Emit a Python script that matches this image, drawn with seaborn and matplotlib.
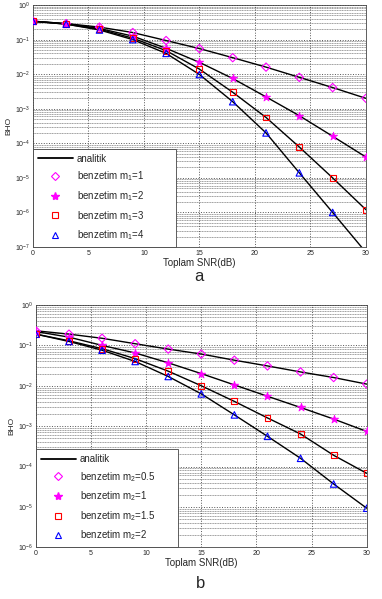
import numpy as np
import pandas as pd
import matplotlib
matplotlib.use("Agg")
import matplotlib.pyplot as plt
import seaborn as sns
from matplotlib.lines import Line2D
from matplotlib.ticker import LogLocator, NullFormatter

snr = [0, 3, 6, 9, 12, 15, 18, 21, 24, 27, 30]

# (a) simulated BER for m1 = 1..4
a_m1_1 = [0.34, 0.29, 0.23, 0.16, 0.094, 0.055, 0.030, 0.016, 0.0081, 0.0041, 0.0020]
a_m1_2 = [0.34, 0.29, 0.21, 0.126, 0.056, 0.022, 0.0075, 0.0022, 6.3e-4, 1.6e-4, 4.0e-5]
a_m1_3 = [0.34, 0.28, 0.20, 0.11, 0.048, 0.014, 0.0030, 5.6e-4, 7.8e-5, 1.0e-5, 1.2e-6]
a_m1_4 = [0.34, 0.28, 0.19, 0.10, 0.040, 0.0098, 1.6e-3, 2.0e-4, 1.4e-5, 1.0e-6, 7.0e-8]

# (b) simulated BER for m2 = 0.5..2
b_m2_05 = [0.23, 0.19, 0.15, 0.11, 0.081, 0.061, 0.043, 0.031, 0.022, 0.016, 0.011]
b_m2_1 = [0.22, 0.16, 0.10, 0.065, 0.037, 0.020, 0.0105, 0.0055, 0.0029, 0.0015, 7.4e-4]
b_m2_15 = [0.19, 0.13, 0.083, 0.047, 0.023, 0.010, 0.0041, 0.0016, 6.4e-4, 1.9e-4, 6.8e-5]
b_m2_2 = [0.19, 0.125, 0.076, 0.040, 0.017, 0.0063, 0.0019, 5.6e-4, 1.6e-4, 3.7e-5, 9.3e-6]

labels_a = ["benzetim m$_1$=1", "benzetim m$_1$=2", "benzetim m$_1$=3", "benzetim m$_1$=4"]
labels_b = ["benzetim m$_2$=0.5", "benzetim m$_2$=1", "benzetim m$_2$=1.5", "benzetim m$_2$=2"]

sns.set_theme(style="white")
plt.rcParams['font.family'] = ['Liberation Sans', 'DejaVu Sans']
plt.rcParams['mathtext.fontset'] = 'custom'
plt.rcParams['mathtext.rm'] = 'Liberation Sans'

styles = [
    dict(marker="D", color="#ff00ff", fill=False, s=18),
    dict(marker="*", color="#ff00ff", fill=True, s=40),
    dict(marker="s", color="#ff0000", fill=False, s=18),
    dict(marker="^", color="#0000ff", fill=False, s=22),
]


def panel(ax, series, labels, ymin):
    for vals, lab, st in zip(series, labels, styles):
        df = pd.DataFrame({"snr": snr, "ber": vals})
        sns.lineplot(data=df, x="snr", y="ber", ax=ax, color="black", lw=1.0)
        if st["fill"]:
            sns.scatterplot(data=df, x="snr", y="ber", ax=ax, marker=st["marker"],
                            color=st["color"], s=st["s"], edgecolor=st["color"],
                            linewidth=0.5, zorder=5)
        else:
            sns.scatterplot(data=df, x="snr", y="ber", ax=ax, marker=st["marker"],
                            facecolor="none", edgecolor=st["color"], s=st["s"],
                            linewidth=0.8, zorder=5)
    ax.set_yscale("log")
    ax.set_xlim(0, 30)
    ax.set_ylim(ymin, 1)
    ax.set_xticks([0, 5, 10, 15, 20, 25, 30])
    ax.yaxis.set_major_locator(LogLocator(base=10, numticks=12))
    ax.yaxis.set_minor_locator(LogLocator(base=10, subs=np.arange(2, 10), numticks=12))
    ax.yaxis.set_minor_formatter(NullFormatter())
    ax.grid(True, which="major", color="#555555", ls=":", lw=0.7)
    ax.grid(True, which="minor", axis="y", color="#555555", ls="--", lw=0.4, dashes=(2, 1))
    ax.tick_params(axis="both", which="major", labelsize=5, length=2, direction="in", pad=2)
    ax.tick_params(axis="y", which="minor", length=1, direction="in")
    for sp in ax.spines.values():
        sp.set_color("#444444")
        sp.set_linewidth(0.6)
    ax.set_xlabel("Toplam SNR(dB)", fontsize=7, labelpad=1)
    ax.set_ylabel("BHO", fontsize=6, labelpad=2)
    handles = [Line2D([], [], color="black", lw=1.3, label="analitik")]
    for lab, st in zip(labels, styles):
        if st["fill"]:
            h = Line2D([], [], ls="none", marker=st["marker"], color=st["color"],
                       markersize=6, label=lab)
        else:
            h = Line2D([], [], ls="none", marker=st["marker"], markerfacecolor="none",
                       markeredgecolor=st["color"], markersize=4, markeredgewidth=0.8, label=lab)
        handles.append(h)
    leg = ax.legend(handles=handles, loc="lower left", bbox_to_anchor=(0, 0, 0.43, 0.38),
                    mode="expand", fontsize=7, frameon=True,
                    fancybox=False, framealpha=1, edgecolor="#444444",
                    borderaxespad=0.0, labelspacing=0.6, handlelength=3.6,
                    handletextpad=0.4, borderpad=0.5)
    leg.get_frame().set_linewidth(0.6)
    return ax


fig = plt.figure(figsize=(3.82, 5.99), dpi=100)
ax1 = fig.add_axes([0.086, 0.5876, 0.872, 0.404])
ax2 = fig.add_axes([0.094, 0.0863, 0.866, 0.4045])
panel(ax1, [a_m1_1, a_m1_2, a_m1_3, a_m1_4], labels_a, 1e-7)
panel(ax2, [b_m2_05, b_m2_1, b_m2_15, b_m2_2], labels_b, 1e-6)
fig.text(0.52, 1 - 277 / 599, "a", fontsize=12, ha="center", va="center")
fig.text(0.525, 1 - 583 / 599, "b", fontsize=12, ha="center", va="center")

fig.savefig("out.png", dpi=100)
